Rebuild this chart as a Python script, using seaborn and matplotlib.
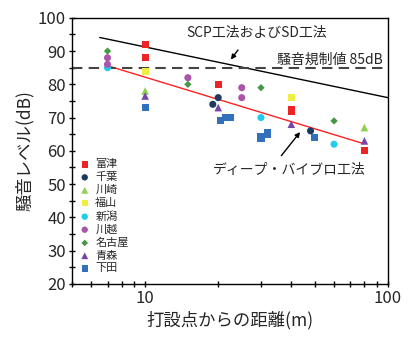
import matplotlib
matplotlib.use("Agg")
import matplotlib.pyplot as plt
import matplotlib.ticker as mticker
import seaborn as sns
import pandas as pd

sns.set_theme(style="white")
plt.rcParams['font.family'] = ['Noto Sans CJK JP', 'DejaVu Sans']

# ---- data ----
futtsu_x = [10, 10, 20, 40, 40, 80]
futtsu_y = [92, 88, 80, 72.5, 71.7, 60]
chiba_x = [19, 20, 48]
chiba_y = [74, 76, 66]
kawasaki_x = [10, 80]
kawasaki_y = [78, 67]
fukuyama_x = [10, 40]
fukuyama_y = [84, 76]
niigata_x = [7, 30, 60]
niigata_y = [85, 70, 62]
kawagoe_x = [7, 7, 15, 25, 25]
kawagoe_y = [88, 86, 82, 79, 76]
nagoya_x = [7, 15, 30, 60]
nagoya_y = [90, 80, 79, 69]
aomori_x = [10, 20, 40, 80]
aomori_y = [76.5, 73, 68, 63]
shimoda_x = [10, 20.5, 21.5, 22.5, 30, 30, 32, 32, 50]
shimoda_y = [73, 69, 70, 70, 63.8, 64.4, 65.0, 65.6, 64]

scp_line_x = [6.5, 100]
scp_line_y = [94.1, 76.0]
dv_line_x = [7, 80]
dv_line_y = [85.6, 62.1]
limit_db = 85

series = [
    ("富津", futtsu_x, futtsu_y, "s", "#EE2424", 26),
    ("千葉", chiba_x, chiba_y, "o", "#1F3A60", 26),
    ("川崎", kawasaki_x, kawasaki_y, "^", "#8CD050", 30),
    ("福山", fukuyama_x, fukuyama_y, "s", "#EEEE44", 26),
    ("新潟", niigata_x, niigata_y, "o", "#22CCEE", 26),
    ("川越", kawagoe_x, kawagoe_y, "o", "#AA55AA", 26),
    ("名古屋", nagoya_x, nagoya_y, "D", "#449944", 14),
    ("青森", aomori_x, aomori_y, "^", "#7744AA", 30),
    ("下田", shimoda_x, shimoda_y, "s", "#3370BB", 26),
]

fig = plt.figure(figsize=(4.14, 3.5), dpi=100)
ax = fig.add_axes([0.174, 0.189, 0.763, 0.76])

# lines
sns.lineplot(x=scp_line_x, y=scp_line_y, ax=ax, color="black", lw=1.0)
sns.lineplot(x=dv_line_x, y=dv_line_y, ax=ax, color="#FF2020", lw=1.0)
ax.axhline(limit_db, color="#444444", lw=1.5, dashes=(5, 3))

for name, xs, ys, mk, col, s in series:
    df = pd.DataFrame({"x": xs, "y": ys})
    sns.scatterplot(data=df, x="x", y="y", ax=ax, marker=mk, color=col,
                    s=s, edgecolor="none", linewidth=0, label=name, zorder=3)

ax.set_xscale("log")
ax.set_xlim(5, 100)
ax.set_ylim(20, 100)
ax.yaxis.set_major_locator(mticker.MultipleLocator(10))
ax.yaxis.set_minor_locator(mticker.MultipleLocator(5))
ax.xaxis.set_major_formatter(mticker.FuncFormatter(lambda v, p: f"{v:g}"))
ax.xaxis.set_minor_formatter(mticker.NullFormatter())

for sp in ax.spines.values():
    sp.set_color("black")
    sp.set_linewidth(1.0)

ax.tick_params(axis="both", which="both", direction="inout", length=5,
               width=1, color="black", labelsize=12, left=True, bottom=True,
               top=False, right=False, pad=2)
ax.tick_params(axis="both", which="minor", length=5)

ax.set_xlabel("打設点からの距離(m)", fontsize=12.5, labelpad=3)
ax.set_ylabel("騒音レベル(dB)", fontsize=12.5, labelpad=3)

# annotations
ax.text(28.8, 95.5, "SCP工法およびSD工法", fontsize=10, ha="center", va="center")
ax.annotate("", xy=(22.2, 86.8), xytext=(24.5, 91.0),
            arrowprops=dict(arrowstyle="-|>", color="black", lw=1, mutation_scale=7))
ax.text(95.3, 87.3, "騒音規制値 85dB", fontsize=10, ha="right", va="center")
ax.text(39.4, 54.3, "ディープ・バイブロ工法", fontsize=10, ha="center", va="center")
ax.annotate("", xy=(44.2, 66.3), xytext=(35.8, 57.9),
            arrowprops=dict(arrowstyle="-|>", color="black", lw=1, mutation_scale=7))

leg = ax.legend(loc="upper left", bbox_to_anchor=(0.005, 0.485), frameon=False,
                fontsize=8, handletextpad=0.35, labelspacing=0.25,
                borderaxespad=0, handlelength=1.2, markerscale=0.9)

fig.savefig("out.png", dpi=100)
